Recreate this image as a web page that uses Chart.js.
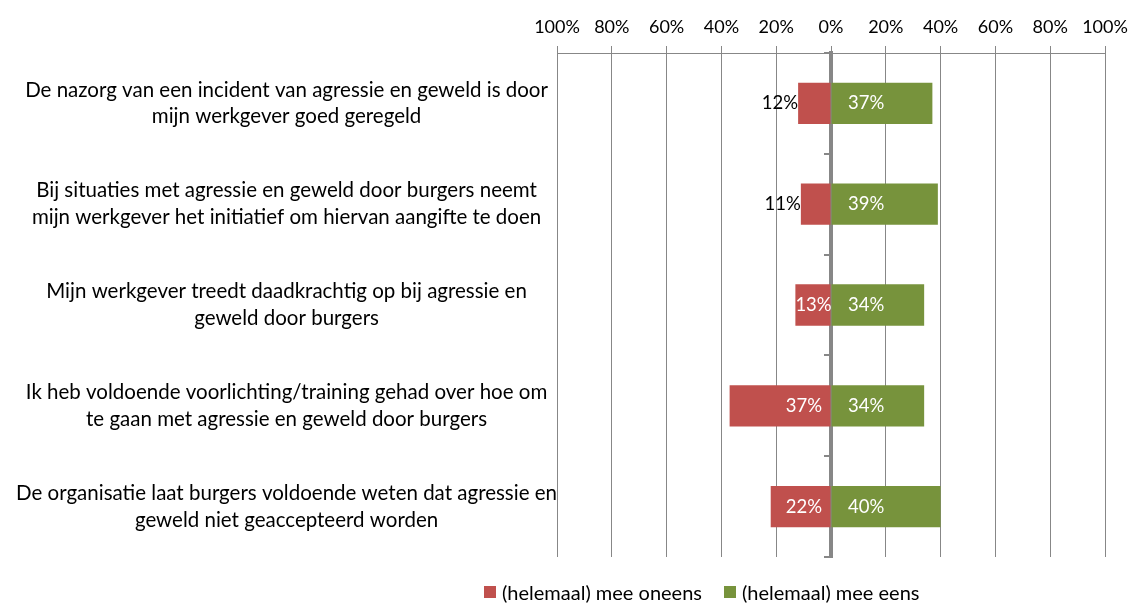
<!DOCTYPE html>
<html>
<head>
<meta charset="utf-8">
<script src="https://cdn.jsdelivr.net/npm/chart.js@4.4.0/dist/chart.umd.min.js"></script>
<style>
body{margin:0;background:#fff;}
#wrap{position:relative;width:1132px;height:603px;}
.leg{position:absolute;top:580px;height:24px;display:flex;align-items:center;font:20px Lato, sans-serif;color:#000;}
.leg span{display:inline-block;width:12px;height:12px;margin-right:6px;}
</style>
</head>
<body>
<div id="wrap">
  <canvas class="bar-chart" width="1132" height="603"></canvas>
  <div class="leg" style="left:484px"><span style="background:#C0504D"></span>(helemaal) mee oneens</div>
  <div class="leg" style="left:724px"><span style="background:#77933C"></span>(helemaal) mee eens</div>
</div>
<script>
var canvasElement = document.querySelector(".bar-chart")

var categories = [
    ["De nazorg van een incident van agressie en geweld is door", "mijn werkgever goed geregeld"],
    ["Bij situaties met agressie en geweld door burgers neemt", "mijn werkgever het initiatief om hiervan aangifte te doen"],
    ["Mijn werkgever treedt daadkrachtig op bij agressie en", "geweld door burgers"],
    ["Ik heb voldoende voorlichting/training gehad over hoe om", "te gaan met agressie en geweld door burgers"],
    ["De organisatie laat burgers voldoende weten dat agressie en", "geweld niet geaccepteerd worden"]
]
var oneens = [-12, -11, -13, -37, -22]
var eens = [37, 39, 34, 34, 40]
var tickLabels = ["100%", "80%", "60%", "40%", "20%", "0%", "20%", "40%", "60%", "80%", "100%"]

var gridGrey = "#878787"
var labelFont = "18.5px Lato"

// percentages written on the bars
var barLabels = {
    id: "barLabels",
    afterDatasetsDraw: function(chart) {
        var ctx = chart.ctx
        var zero = chart.scales.x.getPixelForValue(0)
        ctx.save()
        ctx.font = labelFont
        ctx.textBaseline = "middle"
        chart.data.datasets.forEach(function(ds, di) {
            chart.getDatasetMeta(di).data.forEach(function(bar, i) {
                var v = ds.data[i]
                var txt = Math.abs(v) + "%"
                var w = ctx.measureText(txt).width
                if (v < 0) {
                    ctx.textAlign = "right"
                    if (zero - bar.x + 3 >= w) {
                        ctx.fillStyle = "#fff"
                        ctx.fillText(txt, Math.max(bar.x + w, zero - 9), bar.y)
                    } else {
                        ctx.fillStyle = "#000"
                        ctx.fillText(txt, bar.x, bar.y)
                    }
                } else {
                    ctx.fillStyle = "#fff"
                    ctx.textAlign = "left"
                    ctx.fillText(txt, zero + 17, bar.y)
                }
            })
        })
        ctx.restore()
    }
}

var config = {
    type: "bar",
    data: {
        labels: categories,
        datasets: [
            {
                label: "(helemaal) mee oneens",
                data: oneens,
                backgroundColor: "#C0504D",
                barPercentage: 0.41,
                categoryPercentage: 1
            },
            {
                label: "(helemaal) mee eens",
                data: eens,
                backgroundColor: "#77933C",
                barPercentage: 0.41,
                categoryPercentage: 1
            }
        ]
    },
    options: {
        indexAxis: "y",
        responsive: false,
        animation: false,
        layout: { padding: { top: 0, right: 27, bottom: 46, left: 0 } },
        scales: {
            x: {
                position: "top",
                stacked: true,
                min: -100,
                max: 100,
                afterFit: function(s) {
                    s.height = 53
                    s.paddingLeft = 0
                    s.paddingRight = 0
                },
                ticks: {
                    stepSize: 20,
                    padding: 8,
                    color: "#000",
                    font: { family: "Lato", size: 18 },
                    maxRotation: 0,
                    callback: function(v, i) { return tickLabels[i] }
                },
                grid: {
                    color: gridGrey,
                    lineWidth: 1,
                    tickLength: 7
                },
                border: { display: true, color: gridGrey, width: 1 }
            },
            y: {
                stacked: true,
                afterFit: function(s) { s.width = 557 },
                ticks: {
                    padding: 0,
                    crossAlign: "center",
                    color: "#000",
                    font: { family: "Lato", size: 20.5, lineHeight: 1.3 }
                },
                grid: { display: false, drawTicks: false },
                border: { display: false }
            },
            // zero line with the small marks between categories
            yZero: {
                type: "category",
                labels: categories,
                position: { x: 0 },
                offset: true,
                ticks: { display: false },
                grid: {
                    offset: true,
                    drawOnChartArea: false,
                    drawTicks: true,
                    tickLength: 5,
                    color: gridGrey,
                    lineWidth: 2
                },
                border: { display: true, color: gridGrey, width: 4 }
            }
        },
        plugins: {
            legend: { display: false },
            tooltip: { enabled: false }
        }
    },
    plugins: [barLabels]
}

var chart = new Chart(canvasElement, config)
</script>
</body>
</html>
